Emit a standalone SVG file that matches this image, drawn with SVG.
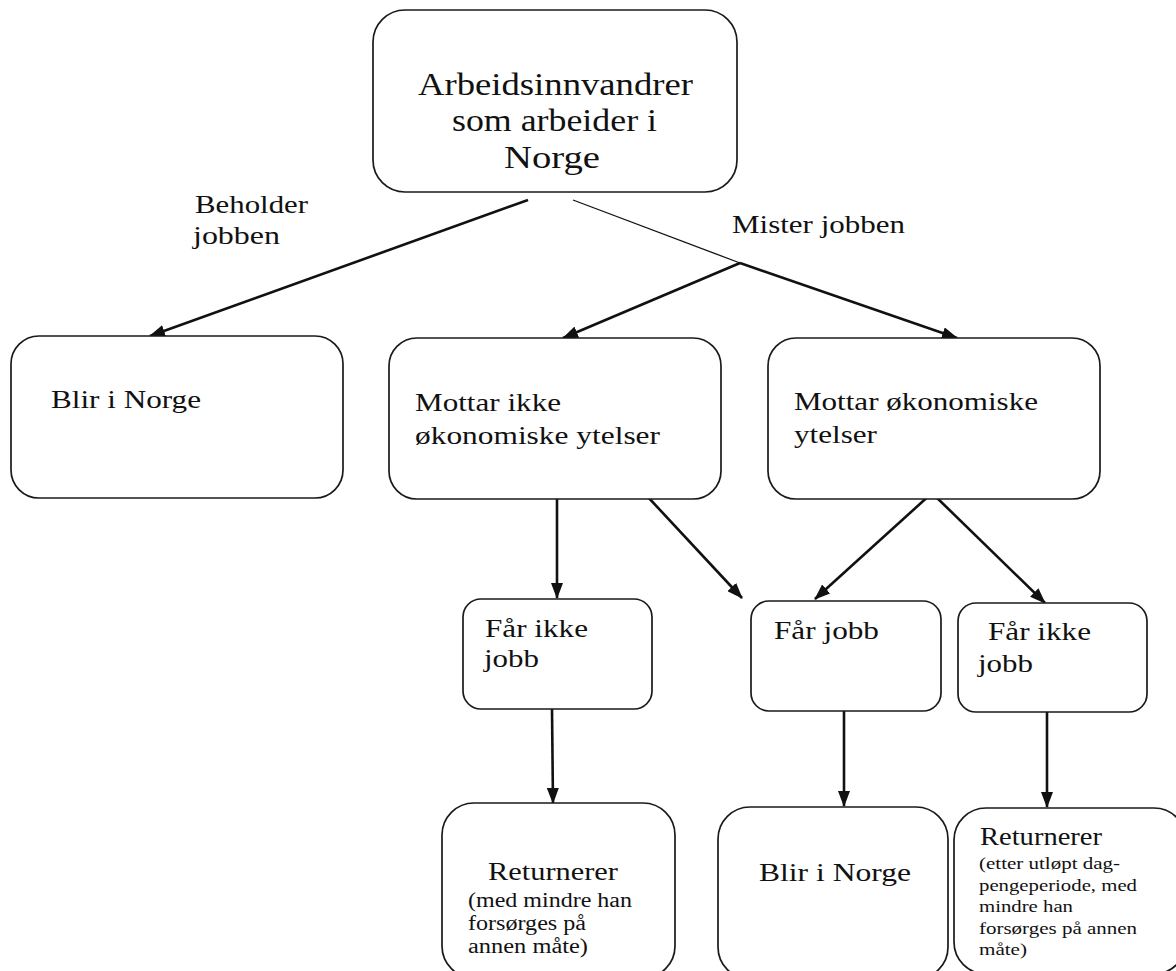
<svg xmlns="http://www.w3.org/2000/svg" width="1176" height="971" viewBox="0 0 1176 971" font-family="'Liberation Serif', 'Times New Roman', 'DejaVu Serif', serif">
<style>
.box{fill:#fff;stroke:#1a1a1a;stroke-width:1.7}
text{font-family:'Liberation Serif','Times New Roman','DejaVu Serif',serif;fill:#111}
.big{font-size:30.5px}
.t{font-size:26px}
.s{font-size:20px}
.xs{font-size:17.5px}
.c{fill:none;stroke:#111;stroke-width:2.6}
.thin{fill:none;stroke:#111;stroke-width:1.3}
</style>
<defs>
<marker id="ah" viewBox="0 0 16 12" refX="15" refY="6" markerWidth="16" markerHeight="12" markerUnits="userSpaceOnUse" orient="auto">
<path d="M0,0 L16,6 L0,12 z" fill="#111"/>
</marker>
</defs>
<rect width="1176" height="971" fill="#fff"/>

<g id="connectors">
<line class="c" x1="528" y1="200" x2="150" y2="336" marker-end="url(#ah)"/>
<line class="thin" x1="573" y1="200" x2="740" y2="263"/>
<line class="c" x1="740" y1="263" x2="563" y2="338" marker-end="url(#ah)"/>
<line class="c" x1="740" y1="263" x2="957" y2="338" marker-end="url(#ah)"/>
<line class="c" x1="557" y1="499" x2="557" y2="598" marker-end="url(#ah)"/>
<line class="c" x1="647" y1="496" x2="742" y2="598" marker-end="url(#ah)"/>
<line class="c" x1="932" y1="493" x2="815" y2="599" marker-end="url(#ah)"/>
<line class="c" x1="932" y1="493" x2="1045" y2="603" marker-end="url(#ah)"/>
<line class="c" x1="552" y1="709" x2="553" y2="803" marker-end="url(#ah)"/>
<line class="c" x1="844" y1="711" x2="844" y2="806" marker-end="url(#ah)"/>
<line class="c" x1="1047" y1="712" x2="1047" y2="807" marker-end="url(#ah)"/>
</g>

<g id="labels">
<text class="t" x="195" y="213" textLength="113" lengthAdjust="spacingAndGlyphs">Beholder</text>
<text class="t" x="193" y="244" textLength="87" lengthAdjust="spacingAndGlyphs">jobben</text>
<text class="t" x="732" y="233" textLength="173" lengthAdjust="spacingAndGlyphs">Mister jobben</text>
</g>

<g id="node-top">
<rect class="box" x="373" y="10" width="364" height="182" rx="32"/>
<text class="big" x="418" y="95" textLength="275" lengthAdjust="spacingAndGlyphs">Arbeidsinnvandrer</text>
<text class="big" x="452" y="131" textLength="205" lengthAdjust="spacingAndGlyphs">som arbeider i</text>
<text class="big" x="504" y="168" textLength="96" lengthAdjust="spacingAndGlyphs">Norge</text>
</g>

<g id="node-blir1">
<rect class="box" x="11" y="336" width="332" height="162" rx="28"/>
<text class="t" x="51" y="408" textLength="150" lengthAdjust="spacingAndGlyphs">Blir i Norge</text>
</g>

<g id="node-mottar-ikke">
<rect class="box" x="389" y="338" width="332" height="161" rx="28"/>
<text class="t" x="415" y="411" textLength="146" lengthAdjust="spacingAndGlyphs">Mottar ikke</text>
<text class="t" x="415" y="444" textLength="245" lengthAdjust="spacingAndGlyphs">økonomiske ytelser</text>
</g>

<g id="node-mottar">
<rect class="box" x="768" y="338" width="332" height="161" rx="28"/>
<text class="t" x="794" y="410" textLength="244" lengthAdjust="spacingAndGlyphs">Mottar økonomiske</text>
<text class="t" x="794" y="443" textLength="83" lengthAdjust="spacingAndGlyphs">ytelser</text>
</g>

<g id="node-faar-ikke1">
<rect class="box" x="463" y="599" width="189" height="110" rx="18"/>
<text class="t" x="485" y="637" textLength="103" lengthAdjust="spacingAndGlyphs">Får ikke</text>
<text class="t" x="484" y="667" textLength="55" lengthAdjust="spacingAndGlyphs">jobb</text>
</g>

<g id="node-faar-jobb">
<rect class="box" x="751" y="601" width="190" height="110" rx="18"/>
<text class="t" x="774" y="639" textLength="105" lengthAdjust="spacingAndGlyphs">Får jobb</text>
</g>

<g id="node-faar-ikke2">
<rect class="box" x="958" y="603" width="189" height="109" rx="18"/>
<text class="t" x="988" y="640" textLength="103" lengthAdjust="spacingAndGlyphs">Får ikke</text>
<text class="t" x="978" y="672" textLength="55" lengthAdjust="spacingAndGlyphs">jobb</text>
</g>

<g id="node-returnerer1">
<rect class="box" x="442" y="803" width="233" height="175" rx="32"/>
<text class="t" x="488" y="880" textLength="130" lengthAdjust="spacingAndGlyphs">Returnerer</text>
<text class="s" x="468" y="907" textLength="164" lengthAdjust="spacingAndGlyphs">(med mindre han</text>
<text class="s" x="468" y="930" textLength="118" lengthAdjust="spacingAndGlyphs">forsørges på</text>
<text class="s" x="468" y="953" textLength="120" lengthAdjust="spacingAndGlyphs">annen måte)</text>
</g>

<g id="node-blir2">
<rect class="box" x="718" y="807" width="230" height="172" rx="32"/>
<text class="t" x="759" y="881" textLength="152" lengthAdjust="spacingAndGlyphs">Blir i Norge</text>
</g>

<g id="node-returnerer2">
<rect class="box" x="954" y="808" width="232" height="166" rx="32"/>
<text class="t" x="980" y="845" textLength="122" lengthAdjust="spacingAndGlyphs">Returnerer</text>
<text class="xs" x="979" y="869" textLength="141" lengthAdjust="spacingAndGlyphs">(etter utløpt dag-</text>
<text class="xs" x="979" y="891" textLength="158" lengthAdjust="spacingAndGlyphs">pengeperiode, med</text>
<text class="xs" x="979" y="912" textLength="94" lengthAdjust="spacingAndGlyphs">mindre han</text>
<text class="xs" x="979" y="934" textLength="158" lengthAdjust="spacingAndGlyphs">forsørges på annen</text>
<text class="xs" x="979" y="955" textLength="48" lengthAdjust="spacingAndGlyphs">måte)</text>
</g>
</svg>
